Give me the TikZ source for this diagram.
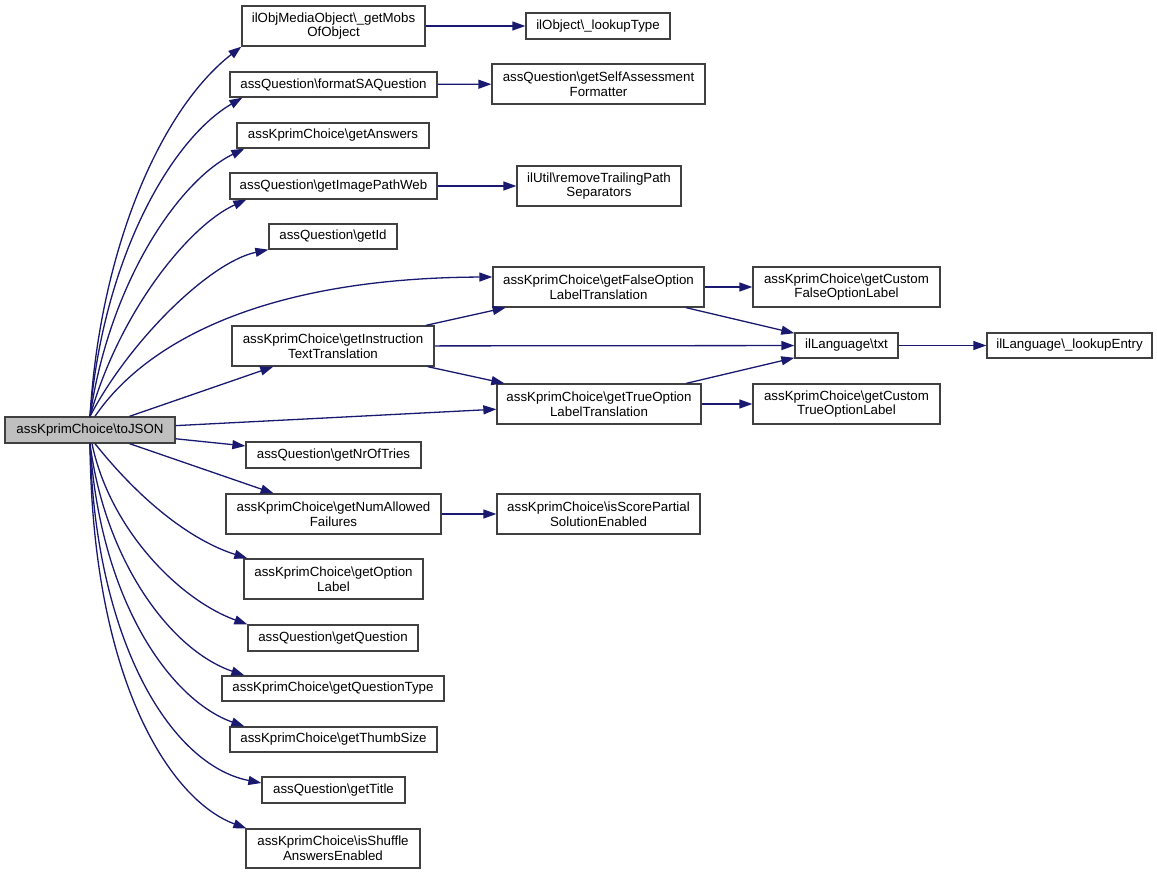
\documentclass[tikz,border=0pt]{standalone}
\usepackage{fontspec}
\setmainfont{Liberation Sans}
\usetikzlibrary{arrows.meta}
\definecolor{edgec}{HTML}{191970}
\definecolor{boxc}{HTML}{404040}
\definecolor{mainfill}{HTML}{BFBFBF}
\begin{document}
\begin{tikzpicture}[x=1pt,y=-1pt,
  box/.style={draw=boxc, line width=1.3pt, fill=white, inner sep=0pt, align=center,
    font=\fontsize{13.3}{14.7}\selectfont, text=black},
  edge/.style={draw=edgec, line width=1.3pt, -{Triangle[length=13pt,width=9pt]}}]
\fill[white] (0,0) rectangle (1157,875);
\useasboundingbox (0,0) rectangle (1157,875);
% nodes
\node[box, minimum width=183pt, minimum height=40pt] (mobs) at (333.5,26) {ilObjMediaObject\textbackslash\_getMobs\\OfObject};
\node[box, minimum width=144pt, minimum height=26pt] (lookup) at (598,26) {ilObject\textbackslash\_lookupType};
\node[box, minimum width=207pt, minimum height=25pt] (fsa) at (333.5,84.5) {assQuestion\textbackslash formatSAQuestion};
\node[box, minimum width=213pt, minimum height=40pt] (self) at (598.5,84) {assQuestion\textbackslash getSelfAssessment\\Formatter};
\node[box, minimum width=192pt, minimum height=25pt] (ans) at (333,135.5) {assKprimChoice\textbackslash getAnswers};
\node[box, minimum width=207pt, minimum height=26pt] (img) at (333.5,186) {assQuestion\textbackslash getImagePathWeb};
\node[box, minimum width=164pt, minimum height=40pt] (trail) at (599,186) {ilUtil\textbackslash removeTrailingPath\\Separators};
\node[box, minimum width=128pt, minimum height=25pt] (gid) at (333,236.5) {assQuestion\textbackslash getId};
\node[box, minimum width=211pt, minimum height=40pt] (false) at (598.5,287) {assKprimChoice\textbackslash getFalseOption\\LabelTranslation};
\node[box, minimum width=187pt, minimum height=40pt] (cfalse) at (846.5,287) {assKprimChoice\textbackslash getCustom\\FalseOptionLabel};
\node[box, minimum width=202pt, minimum height=40pt] (instr) at (333,346) {assKprimChoice\textbackslash getInstruction\\TextTranslation};
\node[box, minimum width=103pt, minimum height=25pt] (txt) at (846.5,345.5) {ilLanguage\textbackslash txt};
\node[box, minimum width=165pt, minimum height=25pt] (entry) at (1069.5,345.5) {ilLanguage\textbackslash\_lookupEntry};
\node[box, fill=mainfill, minimum width=170pt, minimum height=26pt] (json) at (90,430) {assKprimChoice\textbackslash toJSON};
\node[box, minimum width=204pt, minimum height=40pt] (true) at (599,404) {assKprimChoice\textbackslash getTrueOption\\LabelTranslation};
\node[box, minimum width=187pt, minimum height=40pt] (ctrue) at (846.5,404) {assKprimChoice\textbackslash getCustom\\TrueOptionLabel};
\node[box, minimum width=175pt, minimum height=26pt] (tries) at (333.5,455) {assQuestion\textbackslash getNrOfTries};
\node[box, minimum width=215pt, minimum height=40pt] (fail) at (333.5,514) {assKprimChoice\textbackslash getNumAllowed\\Failures};
\node[box, minimum width=203pt, minimum height=40pt] (score) at (598.5,514) {assKprimChoice\textbackslash isScorePartial\\SolutionEnabled};
\node[box, minimum width=179pt, minimum height=40pt] (opt) at (333.5,579) {assKprimChoice\textbackslash getOption\\Label};
\node[box, minimum width=170pt, minimum height=26pt] (ques) at (333,638) {assQuestion\textbackslash getQuestion};
\node[box, minimum width=222pt, minimum height=25pt] (qtype) at (333,688.5) {assKprimChoice\textbackslash getQuestionType};
\node[box, minimum width=207pt, minimum height=25pt] (thumb) at (333.5,739.5) {assKprimChoice\textbackslash getThumbSize};
\node[box, minimum width=143pt, minimum height=26pt] (title) at (333.5,790) {assQuestion\textbackslash getTitle};
\node[box, minimum width=174pt, minimum height=39pt] (shuf) at (333,848.5) {assKprimChoice\textbackslash isShuffle\\AnswersEnabled};
% curved edges upward
\draw[edge] (json.north) .. controls (100,250) and (160,110) .. (mobs.south west);
\draw[edge] (json.north) .. controls (103,260) and (170,140) .. ([xshift=13pt]fsa.south west);
\draw[edge] (json.north) .. controls (110,280) and (180,180) .. ([xshift=8pt]ans.south west);
\draw[edge] (json.north) .. controls (120,310) and (190,225) .. ([xshift=17pt]img.south west);
\draw[edge] (json.north) .. controls (130,340) and (210,262) .. (gid.south west);
\draw[edge] ([xshift=5pt]json.north) .. controls (140,350) and (250,278) .. ([yshift=10pt]false.west);
% straight edges
\draw[edge] (json) -- (instr);
\draw[edge] (json) -- (true);
\draw[edge] (json) -- (tries);
\draw[edge] (json) -- (fail);
% curved edges downward
\draw[edge] ([xshift=5pt]json.south) .. controls (140,500) and (190,540) .. ([xshift=4pt]opt.north west);
\draw[edge] ([xshift=2pt]json.south) .. controls (110,530) and (180,600) .. (ques.north west);
\draw[edge] (json.south) .. controls (105,560) and (170,650) .. ([xshift=23pt]qtype.north west);
\draw[edge] (json.south) .. controls (100,600) and (170,700) .. ([xshift=15pt]thumb.north west);
\draw[edge] (json.south) .. controls (95,640) and (170,765) .. ([yshift=7pt]title.west);
\draw[edge] (json.south) .. controls (92,680) and (170,800) .. ([xshift=1pt]shuf.north west);
% second level
\draw[edge] (mobs) -- (lookup);
\draw[edge] (fsa) -- (self);
\draw[edge] (img) -- (trail);
\draw[edge] (false) -- (cfalse);
\draw[edge] (false) -- (txt);
\draw[edge] (instr) -- (false);
\draw[edge] (instr) -- (txt);
\draw[edge] (instr) -- (true);
\draw[edge] (true) -- (txt);
\draw[edge] (true) -- (ctrue);
\draw[edge] (txt) -- (entry);
\draw[edge] (fail) -- (score);
\end{tikzpicture}
\end{document}
